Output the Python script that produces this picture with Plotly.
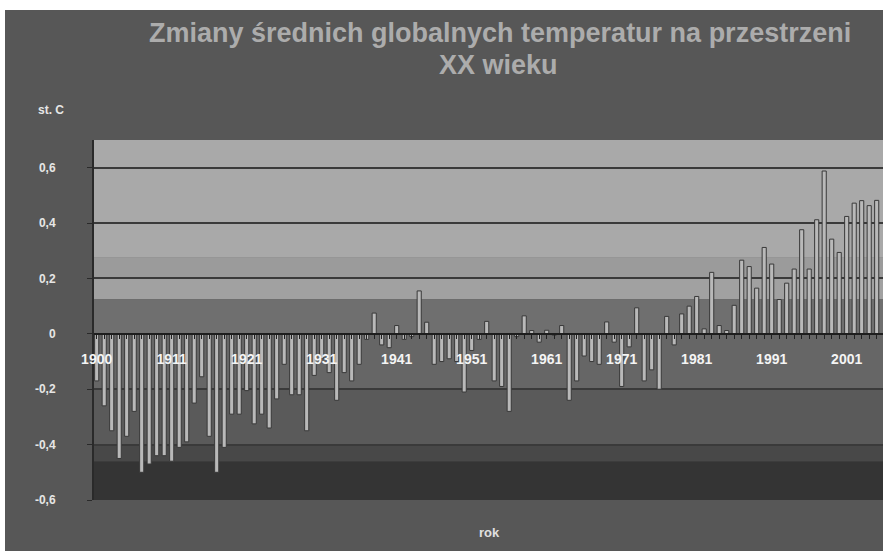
import plotly.graph_objects as go

# Lata (kategorie) i odchylenia temperatury [st. C]
lata = list(range(1901, 2006))
odchylenia = [
    -0.17, -0.26, -0.35, -0.45, -0.37, -0.28, -0.50, -0.47, -0.44, -0.44,
    -0.46, -0.41, -0.39, -0.25, -0.155, -0.37, -0.50, -0.41, -0.29, -0.29,
    -0.205, -0.325, -0.29, -0.34, -0.235, -0.11, -0.22, -0.22, -0.35, -0.15,
    -0.09, -0.14, -0.24, -0.14, -0.17, -0.11, -0.02, 0.075, -0.04, -0.05,
    0.03, -0.02, -0.01, 0.155, 0.042, -0.11, -0.10, -0.09, -0.10, -0.21,
    -0.06, -0.02, 0.045, -0.17, -0.19, -0.28, -0.01, 0.065, 0.012, -0.03,
    0.013, -0.005, 0.03, -0.24, -0.17, -0.08, -0.10, -0.11, 0.043, -0.03,
    -0.19, -0.047, 0.094, -0.17, -0.13, -0.20, 0.063, -0.04, 0.072, 0.10,
    0.135, 0.018, 0.222, 0.03, 0.012, 0.103, 0.266, 0.243, 0.165, 0.312,
    0.252, 0.124, 0.183, 0.234, 0.376, 0.234, 0.412, 0.588, 0.342, 0.294,
    0.424, 0.472, 0.481, 0.463, 0.482,
]

# Etykiety osi
x_tick_pos = [1901, 1911, 1921, 1931, 1941, 1951, 1961, 1971, 1981, 1991, 2001]
x_tick_txt = ["1900", "1911", "1921", "1931", "1941", "1951", "1961", "1971", "1981", "1991", "2001"]
y_tick_pos = [-0.6, -0.4, -0.2, 0, 0.2, 0.4, 0.6]
y_tick_txt = ["-0,6", "-0,4", "-0,2", "0", "0,2", "0,4", "0,6"]

# Tytuł (dwie linie)
tytul = ["Zmiany średnich globalnych temperatur na przestrzeni", "XX wieku"]

# Pasy tła obszaru wykresu (od, do, kolor)
pasy = [
    (0.275, 0.70, "#a9a9a9"),
    (0.200, 0.275, "#9b9b9b"),
    (0.125, 0.200, "#a1a1a1"),
    (0.000, 0.125, "#6f6f6f"),
    (-0.200, 0.000, "#666666"),
    (-0.400, -0.200, "#5a5a5a"),
    (-0.460, -0.400, "#484848"),
    (-0.600, -0.460, "#343434"),
]

W, H = 883, 551
L, R, T, B = 94, 0, 140, 51
pw, ph = W - L - R, H - T - B
FONT = "Liberation Sans, Arial, sans-serif"


def px_x(p):
    return (p - L) / pw


def px_y(p):
    return (H - B - p) / ph


shapes = [
    dict(type="rect", xref="paper", yref="paper", layer="below",
         x0=px_x(5), x1=px_x(W + 5), y0=px_y(H + 5), y1=px_y(10),
         fillcolor="#575757", line=dict(width=0)),
]
for y0, y1, c in pasy:
    shapes.append(dict(type="rect", xref="paper", yref="y", layer="below",
                       x0=0, x1=1, y0=y0, y1=y1, fillcolor=c, line=dict(width=0)))

fig = go.Figure(go.Bar(
    x=lata, y=odchylenia, width=0.55,
    marker=dict(color="#b9b9b9", line=dict(color="#383838", width=1)),
))

zero_pos = 0.6 / 1.3

annotations = [
    dict(text=f"<b>{tytul[0]}</b>", xref="paper", yref="paper",
         x=px_x(500), y=px_y(33), xanchor="center", yanchor="middle",
         showarrow=False, font=dict(size=27, color="#acacac")),
    dict(text=f"<b>{tytul[1]}</b>", xref="paper", yref="paper",
         x=px_x(498), y=px_y(65), xanchor="center", yanchor="middle",
         showarrow=False, font=dict(size=27, color="#acacac")),
    dict(text="<b>st. C</b>", xref="paper", yref="paper",
         x=px_x(36), y=px_y(110), xanchor="left", yanchor="middle",
         showarrow=False, font=dict(size=12, color="#e6e6e6")),
    dict(text="<b>rok</b>", xref="paper", yref="paper",
         x=px_x(490), y=px_y(532), xanchor="center", yanchor="middle",
         showarrow=False, font=dict(size=13, color="#e0e0e0")),
]

fig.update_layout(
    width=W, height=H,
    margin=dict(l=L, r=R, t=T, b=B, pad=0),
    paper_bgcolor="white",
    plot_bgcolor="#5a5a5a",
    showlegend=False,
    shapes=shapes,
    font=dict(family=FONT),
    xaxis=dict(
        range=[1900.64, 2005.84],
        tickmode="array", tickvals=x_tick_pos, ticktext=x_tick_txt,
        ticks="outside", ticklen=4, tickcolor="#222222", tickwidth=1,
        minor=dict(tickmode="linear", tick0=1901, dtick=1, ticks="outside",
                   ticklen=4, tickcolor="#222222", tickwidth=1),
        ticklabelstandoff=8,
        tickfont=dict(size=14, color="#f4f4f4", family=FONT, weight="bold"),
        showgrid=False, zeroline=False,
        showline=True, linecolor="#1e1e1e", linewidth=2,
        anchor="free", position=zero_pos,
    ),
    yaxis=dict(
        range=[-0.6, 0.7],
        tickmode="array", tickvals=y_tick_pos, ticktext=y_tick_txt,
        ticks="outside", ticklen=5, tickcolor="#2a2a2a",
        ticklabelstandoff=29,
        tickfont=dict(size=12, color="#e6e6e6", family=FONT, weight="bold"),
        showgrid=True, gridcolor="#3a3a3a", gridwidth=2,
        zeroline=True, zerolinecolor="#1e1e1e", zerolinewidth=2,
        showline=True, linecolor="#2a2a2a", linewidth=2,
    ),
    annotations=annotations,
)

fig.write_html("out.html")
